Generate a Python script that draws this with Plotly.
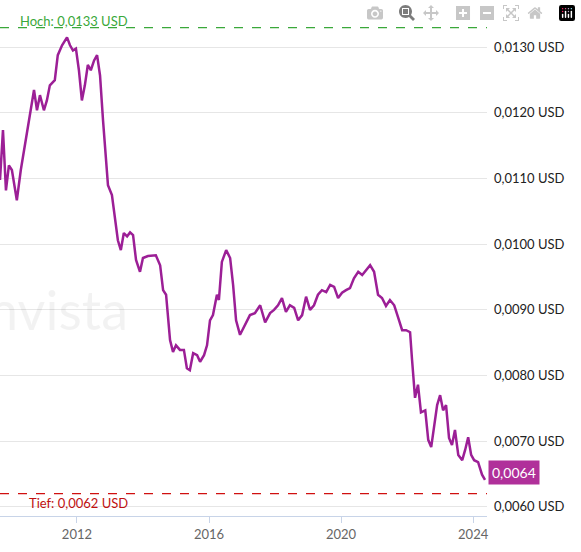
import plotly.graph_objects as go

years = [2009.67,2009.76,2009.85,2009.94,2010.03,2010.18,2010.30,2010.45,2010.58,2010.70,2010.79,2010.88,2011.00,2011.09,2011.18,2011.33,2011.42,2011.55,2011.70,2011.79,2011.88,2011.97,2012.06,2012.15,2012.24,2012.33,2012.42,2012.52,2012.61,2012.70,2012.79,2012.94,2013.06,2013.15,2013.24,2013.33,2013.42,2013.52,2013.61,2013.70,2013.79,2013.91,2014.00,2014.15,2014.27,2014.39,2014.52,2014.61,2014.70,2014.82,2014.91,2015.00,2015.12,2015.24,2015.33,2015.42,2015.52,2015.64,2015.73,2015.85,2015.94,2016.03,2016.12,2016.24,2016.30,2016.39,2016.52,2016.64,2016.73,2016.82,2016.94,2017.09,2017.24,2017.39,2017.55,2017.70,2017.85,2017.97,2018.09,2018.21,2018.33,2018.45,2018.58,2018.70,2018.82,2018.94,2019.06,2019.18,2019.30,2019.42,2019.55,2019.67,2019.79,2019.91,2020.03,2020.15,2020.27,2020.39,2020.52,2020.64,2020.76,2020.88,2021.00,2021.12,2021.24,2021.36,2021.48,2021.61,2021.73,2021.85,2021.97,2022.09,2022.15,2022.24,2022.33,2022.42,2022.55,2022.64,2022.73,2022.82,2022.91,2023.00,2023.09,2023.18,2023.27,2023.36,2023.45,2023.55,2023.67,2023.76,2023.85,2023.94,2024.03,2024.15,2024.27,2024.36]

prices_e4 = [109.8,117.4,108.2,112,111.3,106.7,111.3,115.8,119.6,123.5,120.4,122.7,120.4,121.9,124.2,125,128.8,130.3,131.5,130.3,129.5,129.8,126.5,121.9,124.2,127.3,126.5,128,128.8,125.7,118.9,109,107.5,103.7,100.6,99.1,101.7,101.2,101.8,101.4,97.6,95.8,97.9,98.2,98.2,98.3,96.8,93,92.3,85.4,83.6,84.6,83.9,83.9,81.1,80.8,83.4,83.1,82.1,83.1,84.6,88.4,89.2,92.3,91.5,97.3,99.1,97.9,93.8,88.4,86.2,87.7,89.2,89.5,90.7,88.1,89.5,90,90.7,91.8,89.7,90.7,90.3,88.4,89.2,92,90,90.7,92.3,93,92.7,93.8,93.5,91.8,92.6,93,93.3,94.8,95.8,95.3,96.1,96.8,95.8,92.3,91.8,90.6,91.5,90.7,88.8,86.9,86.9,86.6,82.4,76.6,78.6,74.4,74.7,70.2,69.1,72.5,75.5,77,74.7,75.5,70.5,69.4,71.7,67.9,67.1,68.7,70.6,67.9,67.1,66.8,64.9,64.1]
prices = [p / 10000 for p in prices_e4]

tick_vals = [0.0060,0.0070,0.0080,0.0090,0.0100,0.0110,0.0120,0.0130]
tick_text = ["0,0060 USD","0,0070 USD","0,0080 USD","0,0090 USD","0,0100 USD","0,0110 USD","0,0120 USD","0,0130 USD"]
x_ticks = [2012, 2016, 2020, 2024]
high, low, last = 0.0133, 0.0062, 0.0064

fig = go.Figure()
fig.add_trace(go.Scatter(x=years, y=prices, mode="lines",
                         line=dict(color="#9c1f96", width=2.5), hoverinfo="skip"))

for val, col in [(high, "#3aa83a"), (low, "#d01010")]:
    fig.add_shape(type="line", xref="paper", x0=0, x1=1, yref="y", y0=val, y1=val,
                  line_color=col, line_width=1.2, line_dash="dash")

fig.add_annotation(x=2010.2, y=high, text="Hoch: 0,0133 USD", showarrow=False,
                   xanchor="left", yanchor="bottom", font=dict(color="#3aa83a", size=13), yshift=-3)
fig.add_annotation(x=2010.5, y=low, text="Tief: 0,0062 USD", showarrow=False,
                   xanchor="left", yanchor="top", font=dict(color="#c01010", size=13), yshift=1)
fig.add_annotation(x=1.0, xref="paper", y=last, text="0,0064", showarrow=False,
                   xanchor="left", font=dict(color="white", size=14), bgcolor="#b0309a",
                   borderpad=3, xshift=1, yshift=8)
fig.add_annotation(x=0.0, xref="paper", y=0.0090, text="nvista", showarrow=False,
                   xanchor="left", font=dict(color="rgba(0,0,0,0.05)", size=54), xshift=-14)

fig.update_layout(
    width=581, height=552, margin=dict(l=0, r=94, t=0, b=36),
    plot_bgcolor="white", paper_bgcolor="white", showlegend=False,
    font=dict(family="Lato, sans-serif", size=13, color="#222"),
    xaxis=dict(range=[2009.67, 2024.42], tickvals=x_ticks, ticktext=[str(v) for v in x_ticks],
               showgrid=False, ticks="outside", tickcolor="#c8d4e8", ticklen=6, automargin=False,
               showline=True, linecolor="#c8d4e8", tickfont=dict(color="#666"), zeroline=False),
    yaxis=dict(side="right", range=[0.00586, 0.01372], tickvals=tick_vals, ticktext=tick_text,
               gridcolor="#e6e6e6", zeroline=False, showline=False, ticklabelstandoff=6,
               automargin=False),
)
fig.write_html("out.html", post_script="document.body.style.margin='0';")
